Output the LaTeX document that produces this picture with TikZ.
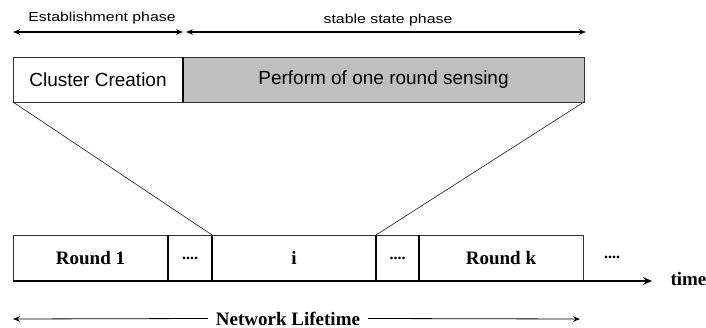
\documentclass[tikz,border=0pt]{standalone}
\usepackage{fontspec}
\setmainfont{Liberation Serif}
\setsansfont{Liberation Sans}
\usetikzlibrary{arrows.meta}
\usetikzlibrary{positioning}
\tikzset{divider/.style={line width=2pt}}

\begin{document}
\begin{tikzpicture}
    [x=1pt,y=-1pt,
    % Styles
    phase text/.style={font=\sffamily\fontsize{13}{13}\selectfont,xscale=1.22,anchor=base},
    top box/.style={draw=linecolor,line width=0.8pt,inner sep=0pt,outer sep=0pt,
        minimum height=45pt,font=\sffamily\fontsize{19}{19}\selectfont},
    round box/.style={draw=linecolor,line width=0.8pt,inner sep=0pt,outer sep=0pt,
        minimum height=46pt,font=\bfseries\fontsize{19}{19}\selectfont},
    dots text/.style={font=\bfseries\fontsize{16}{16}\selectfont},
    phase arrow/.style={line width=1.1pt,{Stealth[length=7pt,width=5.5pt]}-{Stealth[length=7pt,width=5.5pt]}},
    life arrow/.style={line width=0.8pt,-{Stealth[length=7pt,width=5.5pt]}},
    zoom line/.style={draw=linecolor,line width=0.7pt}]

    % Colors
    \colorlet{boxgray}{black!25}
    \colorlet{linecolor}{black!80}

    \useasboundingbox (0,0) rectangle (706,328);

    % Coordinates
    \coordinate (est left) at (13,32);
    \coordinate (est right) at (183,32);
    \coordinate (stable left) at (186,32);
    \coordinate (stable right) at (586,32);
    \coordinate (time end) at (652,281);
    \coordinate (life left) at (13,319);
    \coordinate (life right) at (580,319);

    % Phases
    \node[phase text] (est label) at (102,22) {Establishment phase};
    \node[phase text] (stable label) at (388,24) {stable state phase};
    \draw[phase arrow] (est left) -- (est right);
    \draw[phase arrow] (stable left) -- (stable right);

    % One round
    \node[top box, anchor=north west, minimum width=170pt] (cluster) at (13,57) {Cluster Creation};
    \node[top box, fill=boxgray, right=0pt of cluster, minimum width=401pt] (sensing) {Perform of one round sensing};
    \draw[divider] (cluster.north east) -- (cluster.south east);

    % Rounds
    \node[round box, anchor=north west, minimum width=155pt] (round1) at (13,235) {Round 1};
    \node[round box, right=0pt of round1, minimum width=44pt, dots text] (dots1) {....};
    \node[round box, right=0pt of dots1, minimum width=164pt] (roundi) {i};
    \node[round box, right=0pt of roundi, minimum width=43pt, dots text] (dots2) {....};
    \node[round box, right=0pt of dots2, minimum width=164pt] (roundk) {Round k};
    \node[dots text] (more) at (612,257) {....};

    \foreach \n in {round1, dots1, roundi, dots2}
        \draw[divider] (\n.north east) -- (\n.south east);

    \draw[line width=2.5pt, -{Stealth[length=9pt,width=8pt]}] (round1.south west) -- (time end);
    \node[anchor=base west, font=\bfseries\fontsize{19}{19}\selectfont] (time) at (667,286) {time};

    % Zoom
    \draw[zoom line] (cluster.south west) -- (roundi.north west);
    \draw[zoom line] (sensing.south east) -- (dots2.north west);

    % Lifetime
    \node[font=\bfseries\fontsize{19}{19}\selectfont, inner sep=8pt] (life) at (288,318.5) {Network Lifetime};
    \draw[life arrow] (life.west) -- (life left);
    \draw[life arrow] (life.east) -- (life right);

\end{tikzpicture}
\end{document}
